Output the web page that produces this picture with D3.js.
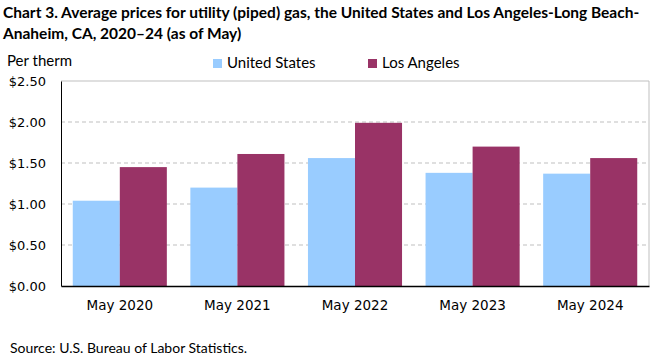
<!DOCTYPE html>
<html>
<head>
<meta charset="utf-8">
<script src="https://cdn.jsdelivr.net/npm/d3@7"></script>
<style>
  body { margin: 0; background: #fff; }
  svg { display: block; }
  .title { font-family: Lato, "Open Sans", sans-serif; font-weight: bold; font-size: 15.5px; fill: #000; }
  .lbl { font-family: Lato, "Open Sans", sans-serif; font-size: 14px; fill: #000; }
  .leg { font-family: Lato, "Open Sans", sans-serif; font-size: 15px; fill: #000; }
  .xtick { font-family: "DejaVu Sans", Verdana, sans-serif; font-size: 13.5px; fill: #000; }
  .ytick { font-family: "DejaVu Sans", Verdana, sans-serif; font-size: 13px; fill: #000; }
</style>
</head>
<body>
<svg id="chart" width="661" height="361"></svg>
<script>
const categories = ["May 2020", "May 2021", "May 2022", "May 2023", "May 2024"];
const seriesNames = ["United States", "Los Angeles"];
const usValues = [1.04, 1.20, 1.56, 1.38, 1.37];
const laValues = [1.45, 1.61, 1.99, 1.70, 1.56];
const yTicks = [0, 0.5, 1.0, 1.5, 2.0, 2.5];
const colors = ["#99CCFF", "#993366"];

const svg = d3.select("#chart");
const m = { left: 61, right: 12, top: 81, bottom: 75 };
const W = 661, H = 361;

const x = d3.scaleBand().domain(categories).range([m.left, W - m.right]).paddingInner(0.2).paddingOuter(0.1);
const xs = d3.scaleBand().domain(seriesNames).range([0, x.bandwidth()]);
const y = d3.scaleLinear().domain([0, 2.5]).range([H - m.bottom, m.top]);

// title
const title = svg.append("text").attr("class", "title");
title.append("tspan").attr("x", 3).attr("y", 18)
  .text("Chart 3. Average prices for utility (piped) gas, the United States and Los Angeles-Long Beach-");
title.append("tspan").attr("x", 3).attr("y", 38.5)
  .text("Anaheim, CA, 2020\u201324 (as of May)");

svg.append("text").attr("class", "leg").attr("x", 7).attr("y", 66).text("Per therm");

// gridlines
svg.append("g").selectAll("line").data(yTicks.filter(d => d > 0 && d < 2.5)).join("line")
  .attr("x1", m.left).attr("x2", W - m.right)
  .attr("y1", d => y(d)).attr("y2", d => y(d))
  .attr("stroke", "#BFBFBF").attr("stroke-dasharray", "4,3");

// frame top/right
svg.append("path")
  .attr("d", `M${m.left},${y(2.5)}H${W - m.right}V${y(0)}`)
  .attr("fill", "none").attr("stroke", "#BFBFBF");

// bars
const data = categories.map((c, i) => ({ cat: c, vals: [usValues[i], laValues[i]] }));
const groups = svg.append("g").selectAll("g").data(data).join("g")
  .attr("transform", d => `translate(${x(d.cat)},0)`);
groups.selectAll("rect").data(d => d.vals.map((v, j) => ({ name: seriesNames[j], v, j }))).join("rect")
  .attr("x", d => xs(d.name))
  .attr("width", xs.bandwidth())
  .attr("y", d => y(d.v))
  .attr("height", d => y(0) - y(d.v))
  .attr("fill", d => colors[d.j]);

// axes
const yAxis = svg.append("g").attr("transform", `translate(${m.left},0)`)
  .call(d3.axisLeft(y).tickValues(yTicks).tickSize(0).tickPadding(15).tickFormat(d => "$" + d3.format(".2f")(d)));
yAxis.select(".domain").attr("stroke", "#000");
yAxis.selectAll("text").attr("class", "ytick").attr("font-family", null).attr("font-size", null);

const xAxis = svg.append("g").attr("transform", `translate(0,${y(0)})`)
  .call(d3.axisBottom(x).tickSize(0).tickPadding(14));
xAxis.select(".domain").attr("stroke", "#000").attr("stroke-width", 1.5);
xAxis.selectAll("text").attr("class", "xtick").attr("font-family", null).attr("font-size", null);

// legend
const legX = [213, 368];
const leg = svg.append("g").selectAll("g").data(seriesNames).join("g")
  .attr("transform", (d, i) => `translate(${legX[i]},59)`);
leg.append("rect").attr("width", 9).attr("height", 9).attr("fill", (d, i) => colors[i]);
leg.append("text").attr("class", "leg").attr("x", 14).attr("y", 9).text(d => d);

svg.append("text").attr("class", "lbl").attr("x", 10).attr("y", 353).text("Source: U.S. Bureau of Labor Statistics.");
</script>
</body>
</html>
